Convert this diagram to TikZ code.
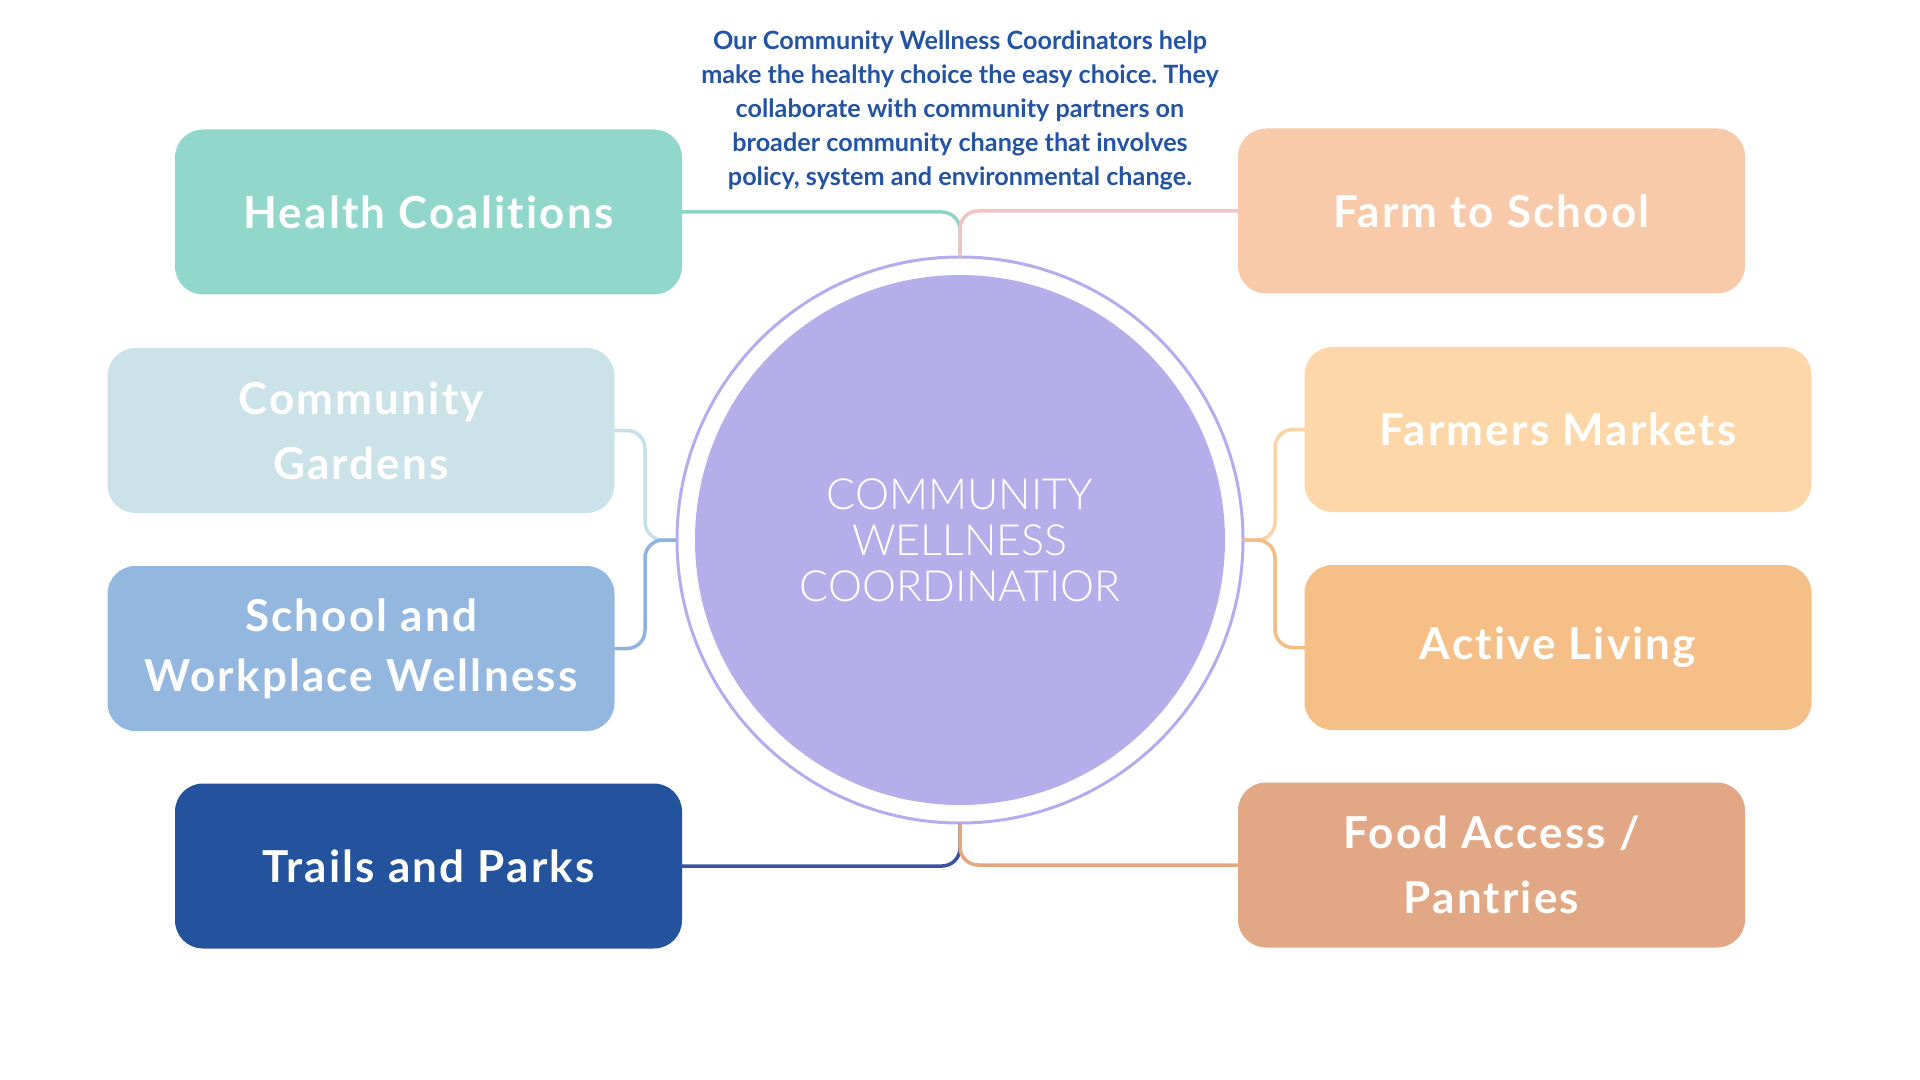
\documentclass[tikz,border=0pt]{standalone}
\usepackage{fontspec}
\setmainfont{Lato}[Ligatures=NoCommon]
\newfontfamily\lightfont{Lato Light}
\newfontfamily\labelfont{Lato}[LetterSpace=5, Ligatures=NoCommon]
\frenchspacing
\definecolor{hcfill}{HTML}{92D7CB} \definecolor{hcline}{HTML}{8FD3C6}
\definecolor{cgfill}{HTML}{CBE3E8} \definecolor{cgline}{HTML}{C6E0EA}
\definecolor{swfill}{HTML}{94B7E0} \definecolor{swline}{HTML}{8DB3E2}
\definecolor{tpfill}{HTML}{23539C} \definecolor{tpline}{HTML}{3A52A0}
\definecolor{fsfill}{HTML}{F8CAA9} \definecolor{fsline}{HTML}{F2C3C3}
\definecolor{fmfill}{HTML}{FDD7A8} \definecolor{fmline}{HTML}{FCD3A4}
\definecolor{alfill}{HTML}{F5BF87} \definecolor{alline}{HTML}{F4BC85}
\definecolor{fafill}{HTML}{E2A784} \definecolor{faline}{HTML}{E6A67F}
\definecolor{corefill}{HTML}{B6AEEA} \definecolor{ring}{HTML}{B4ACEE}
\definecolor{blurbtext}{HTML}{2353A3}
\begin{document}
\begin{tikzpicture}[x=0.5pt, y=-0.5pt, line join=round, line cap=round,
  tile/.style={rounded corners=14pt, minimum width=253.5pt, minimum height=82.5pt,
    inner sep=0pt, outer sep=0pt, align=center, text=white,
    font=\labelfont\bfseries\fontsize{22}{32.5}\selectfont},
  link/.style={line width=1.75pt, rounded corners=9pt}]
\useasboundingbox (0,0) rectangle (1920,1080);
% centre
\node[circle, draw=ring, line width=1.5pt, minimum size=283pt, inner sep=0pt, text=white, align=center,
  font=\lightfont\fontsize{21.5}{23}\selectfont,
  path picture={\fill[corefill] (path picture bounding box.center) circle (132.5pt);}]
  (core) at (960,540) {COMMUNITY\\WELLNESS\\COORDINATIOR};
\node[text=blurbtext, align=center, font=\bfseries\fontsize{12.6}{17}\selectfont] (blurb) at (960,110)
  {Our Community Wellness Coordinators help\\make the healthy choice the easy choice. They\\collaborate with community partners on\\broader community change that involves\\policy, system and environmental change.};
% left column
\node[tile, fill=hcfill] (hc) at (428.5,212) {Health Coalitions};
\node[tile, fill=cgfill] (cg) at (361,430.5) {Community\\Gardens};
\node[tile, fill=swfill] (sw) at (361,648.5) {School and\\[-2.5pt]Workplace Wellness};
\node[tile, fill=tpfill] (tp) at (428.5,866) {Trails and Parks};
% right column
\node[tile, fill=fsfill] (fs) at (1491.5,211) {Farm to School};
\node[tile, fill=fmfill] (fm) at (1558,429.5) {Farmers Markets};
\node[tile, fill=alfill] (al) at (1558,647.5) {Active Living};
\node[tile, fill=fafill] (fa) at (1491.5,865) {Food Access /\\Pantries};
% connectors
\coordinate (lj) at (645,540);
\coordinate (rj) at (1275,540);
\draw[link, hcline] (hc.east) -| (core.north);
\draw[link, fsline] (fs.west) -| (core.north);
\draw[link, tpline] (tp.east) -| (core.south);
\draw[link, faline] (fa.west) -| (core.south);
\draw[link, cgline] (cg.east) -| (lj) -- (core.west);
\draw[link, swline] (sw.east) -| (lj) -- (core.west);
\draw[link, fmline] (fm.west) -| (rj) -- (core.east);
\draw[link, alline] (al.west) -| (rj) -- (core.east);
\end{tikzpicture}
\end{document}
